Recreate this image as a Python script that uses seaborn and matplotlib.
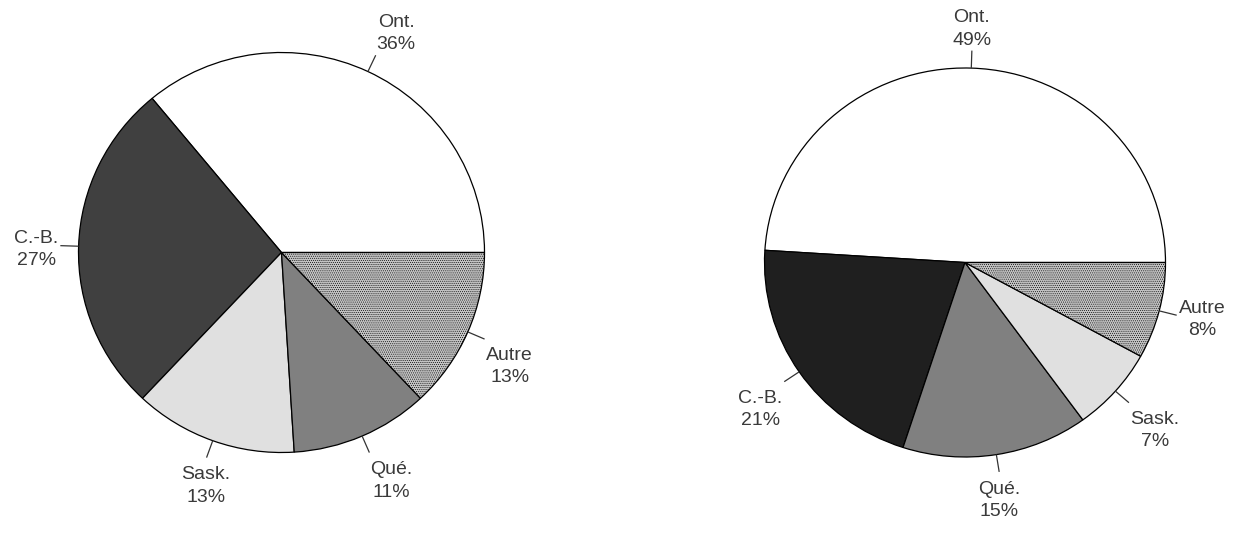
import numpy as np
import matplotlib
matplotlib.use("Agg")
import matplotlib.pyplot as plt
import seaborn as sns

# ---- data ----
left_labels = ["Ont.", "C.-B.", "Sask.", "Qué.", "Autre"]
left_values = [36, 27, 13, 11, 13]
left_colors = ["#ffffff", "#404040", "#e0e0e0", "#808080", "#c4c4c4"]

right_labels = ["Ont.", "C.-B.", "Qué.", "Sask.", "Autre"]
right_values = [49, 21, 15, 7, 8]
right_colors = ["#ffffff", "#1f1f1f", "#808080", "#e0e0e0", "#c4c4c4"]

hatched_label = "Autre"

sns.set_theme(style="white")
plt.rcParams["font.family"] = ["Liberation Sans", "DejaVu Sans"]
plt.rcParams["hatch.color"] = "#f4f4f4"
plt.rcParams["hatch.linewidth"] = 0.4

W, H = 1233, 535
fig = plt.figure(figsize=(W / 100, H / 100), dpi=100)
fig.patch.set_facecolor("white")

TEXT_COLOR = "#3a3a3a"


def draw_pie(cx, cy, rx, ry, labels, values, colors):
    L = 1.4
    ax = fig.add_axes([(cx - L * rx) / W, (H - cy - L * ry) / H,
                       2 * L * rx / W, 2 * L * ry / H])
    wedges, _ = ax.pie(values, colors=colors, startangle=0, counterclock=True,
                       radius=1.0,
                       wedgeprops=dict(edgecolor="black", linewidth=0.9))
    ax.set_aspect("auto")
    ax.set_xlim(-L, L)
    ax.set_ylim(-L, L)
    ax.axis("off")
    for w, lab, val in zip(wedges, labels, values):
        if lab == hatched_label:
            w.set_hatch("........")
        mid = np.deg2rad((w.theta1 + w.theta2) / 2)
        c, s = np.cos(mid), np.sin(mid)
        ax.plot([c * 1.0, c * 1.09], [s * 1.0, s * 1.09],
                color="#333333", lw=0.9, solid_capstyle="butt")
        ha = "left" if c > 0.37 else ("right" if c < -0.37 else "center")
        va = "bottom" if s > 0.3 else ("top" if s < -0.3 else "center")
        tx, ty = c * 1.1, s * 1.1
        if va == "top":
            ty -= 0.035
        elif va == "center":
            ty -= 0.018
        ax.text(tx, ty, f"{lab}\n{val}%", ha=ha, va=va, fontsize=14,
                color=TEXT_COLOR, linespacing=1.4, multialignment="center")
        if lab == hatched_label:
            w.set_edgecolor("black")
    return ax


draw_pie(281.5, 252.5, 203, 200, left_labels, left_values, left_colors)
draw_pie(965, 262.5, 200.5, 194.5, right_labels, right_values, right_colors)

fig.savefig("out.png", dpi=100, facecolor="white")
